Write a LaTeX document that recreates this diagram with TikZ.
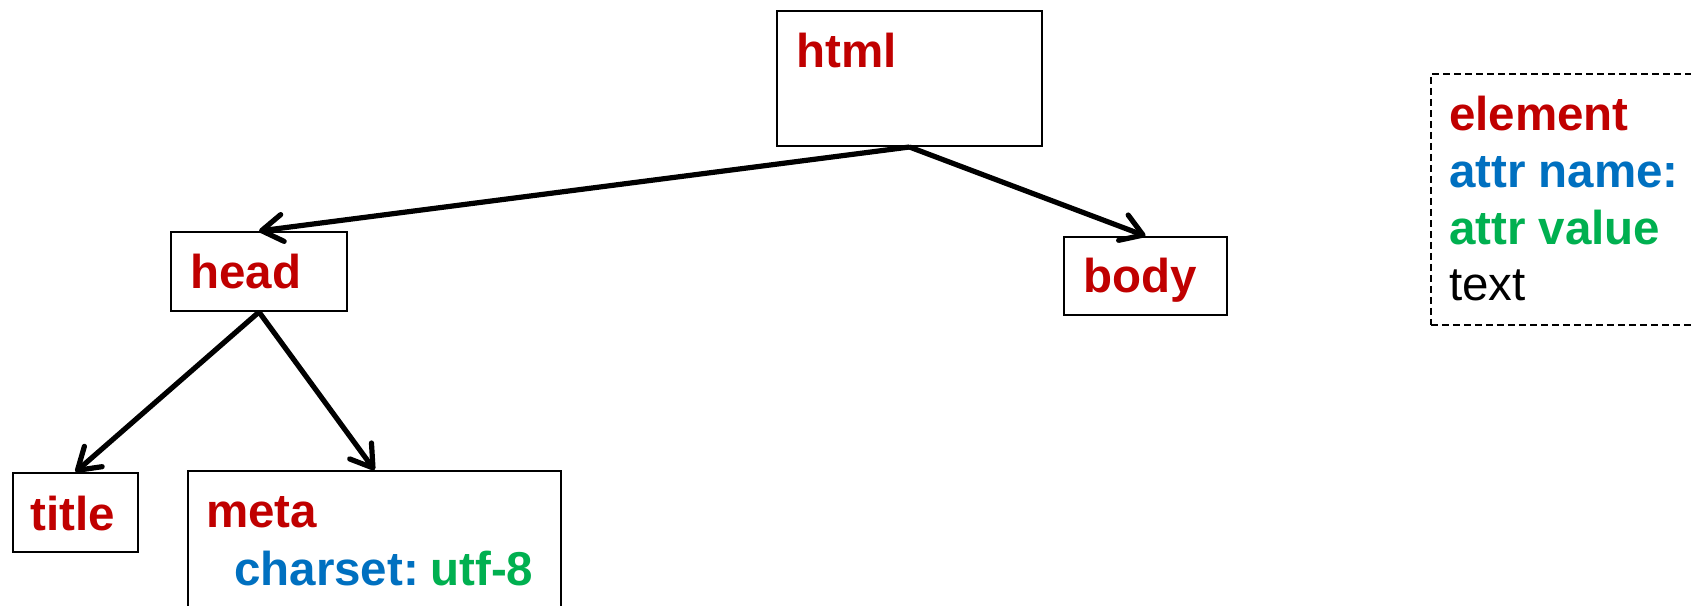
\documentclass[tikz,border=0pt]{standalone}
\usepackage{fontspec}
\setmainfont{Liberation Sans}
\usetikzlibrary{arrows.meta}
\definecolor{elred}{RGB}{192,0,0}
\definecolor{atblue}{RGB}{0,112,192}
\definecolor{atgreen}{RGB}{0,176,80}
\tikzset{
  box/.style={draw=black, line width=2pt, inner sep=0pt, anchor=north west, fill=none},
  lbl/.style={inner sep=0pt, anchor=base west, font=\fontsize{47.5}{57}\selectfont\bfseries},
  elem/.style={lbl, text=elred},
  conn/.style={line width=5.2pt, -{Straight Barb[length=21pt,width=27pt,round]}},
}
\begin{document}
\begin{tikzpicture}[x=1pt,y=-1pt]
\useasboundingbox (0,0) rectangle (1691,605);
\clip (0,0) rectangle (1691,605);
\fill[white] (0,0) rectangle (1691,605);
% boxes
\node[box, minimum width=265pt, minimum height=135pt] (html) at (776,10) {};
\node[box, minimum width=176pt, minimum height=79pt] (head) at (170,231) {};
\node[box, minimum width=163pt, minimum height=78pt] (body) at (1063,236) {};
\node[box, minimum width=125pt, minimum height=79pt] (title) at (12,472) {};
\node[box, minimum width=373pt, minimum height=170pt] (meta) at (187,470) {};
\node[box, draw=black, line width=1.6pt, dash pattern=on 7pt off 4pt, minimum width=280pt, minimum height=251pt] (legend) at (1430,73) {};
% labels
\node[elem] (htmlt) at (796,67) {html};
\node[elem] (headt) at (190,288) {head};
\node[elem] (bodyt) at (1083,292) {body};
\node[elem] (titlet) at (30,530) {title};
\node[elem] (metat) at (206,527) {meta};
\node[lbl] (charset) at (234,585) {\textcolor{atblue}{charset:}\hspace{0.24em}\textcolor{atgreen}{utf-8}};
% legend
\node[elem] (lgel) at (1449,130) {element};
\node[lbl, text=atblue] (lgan) at (1449,187) {attr name:};
\node[lbl, text=atgreen] (lgav) at (1449,244) {attr value};
\node[lbl, font=\fontsize{47.5}{57}\selectfont\mdseries, text=black] (lgtx) at (1449,300) {text};
% connectors
\draw[conn] (html.south) -- (head.north);
\draw[conn] (html.south) -- (body.north);
\draw[conn] (head.south) -- (title.north);
\draw[conn] (head.south) -- (meta.north);
\end{tikzpicture}
\end{document}
